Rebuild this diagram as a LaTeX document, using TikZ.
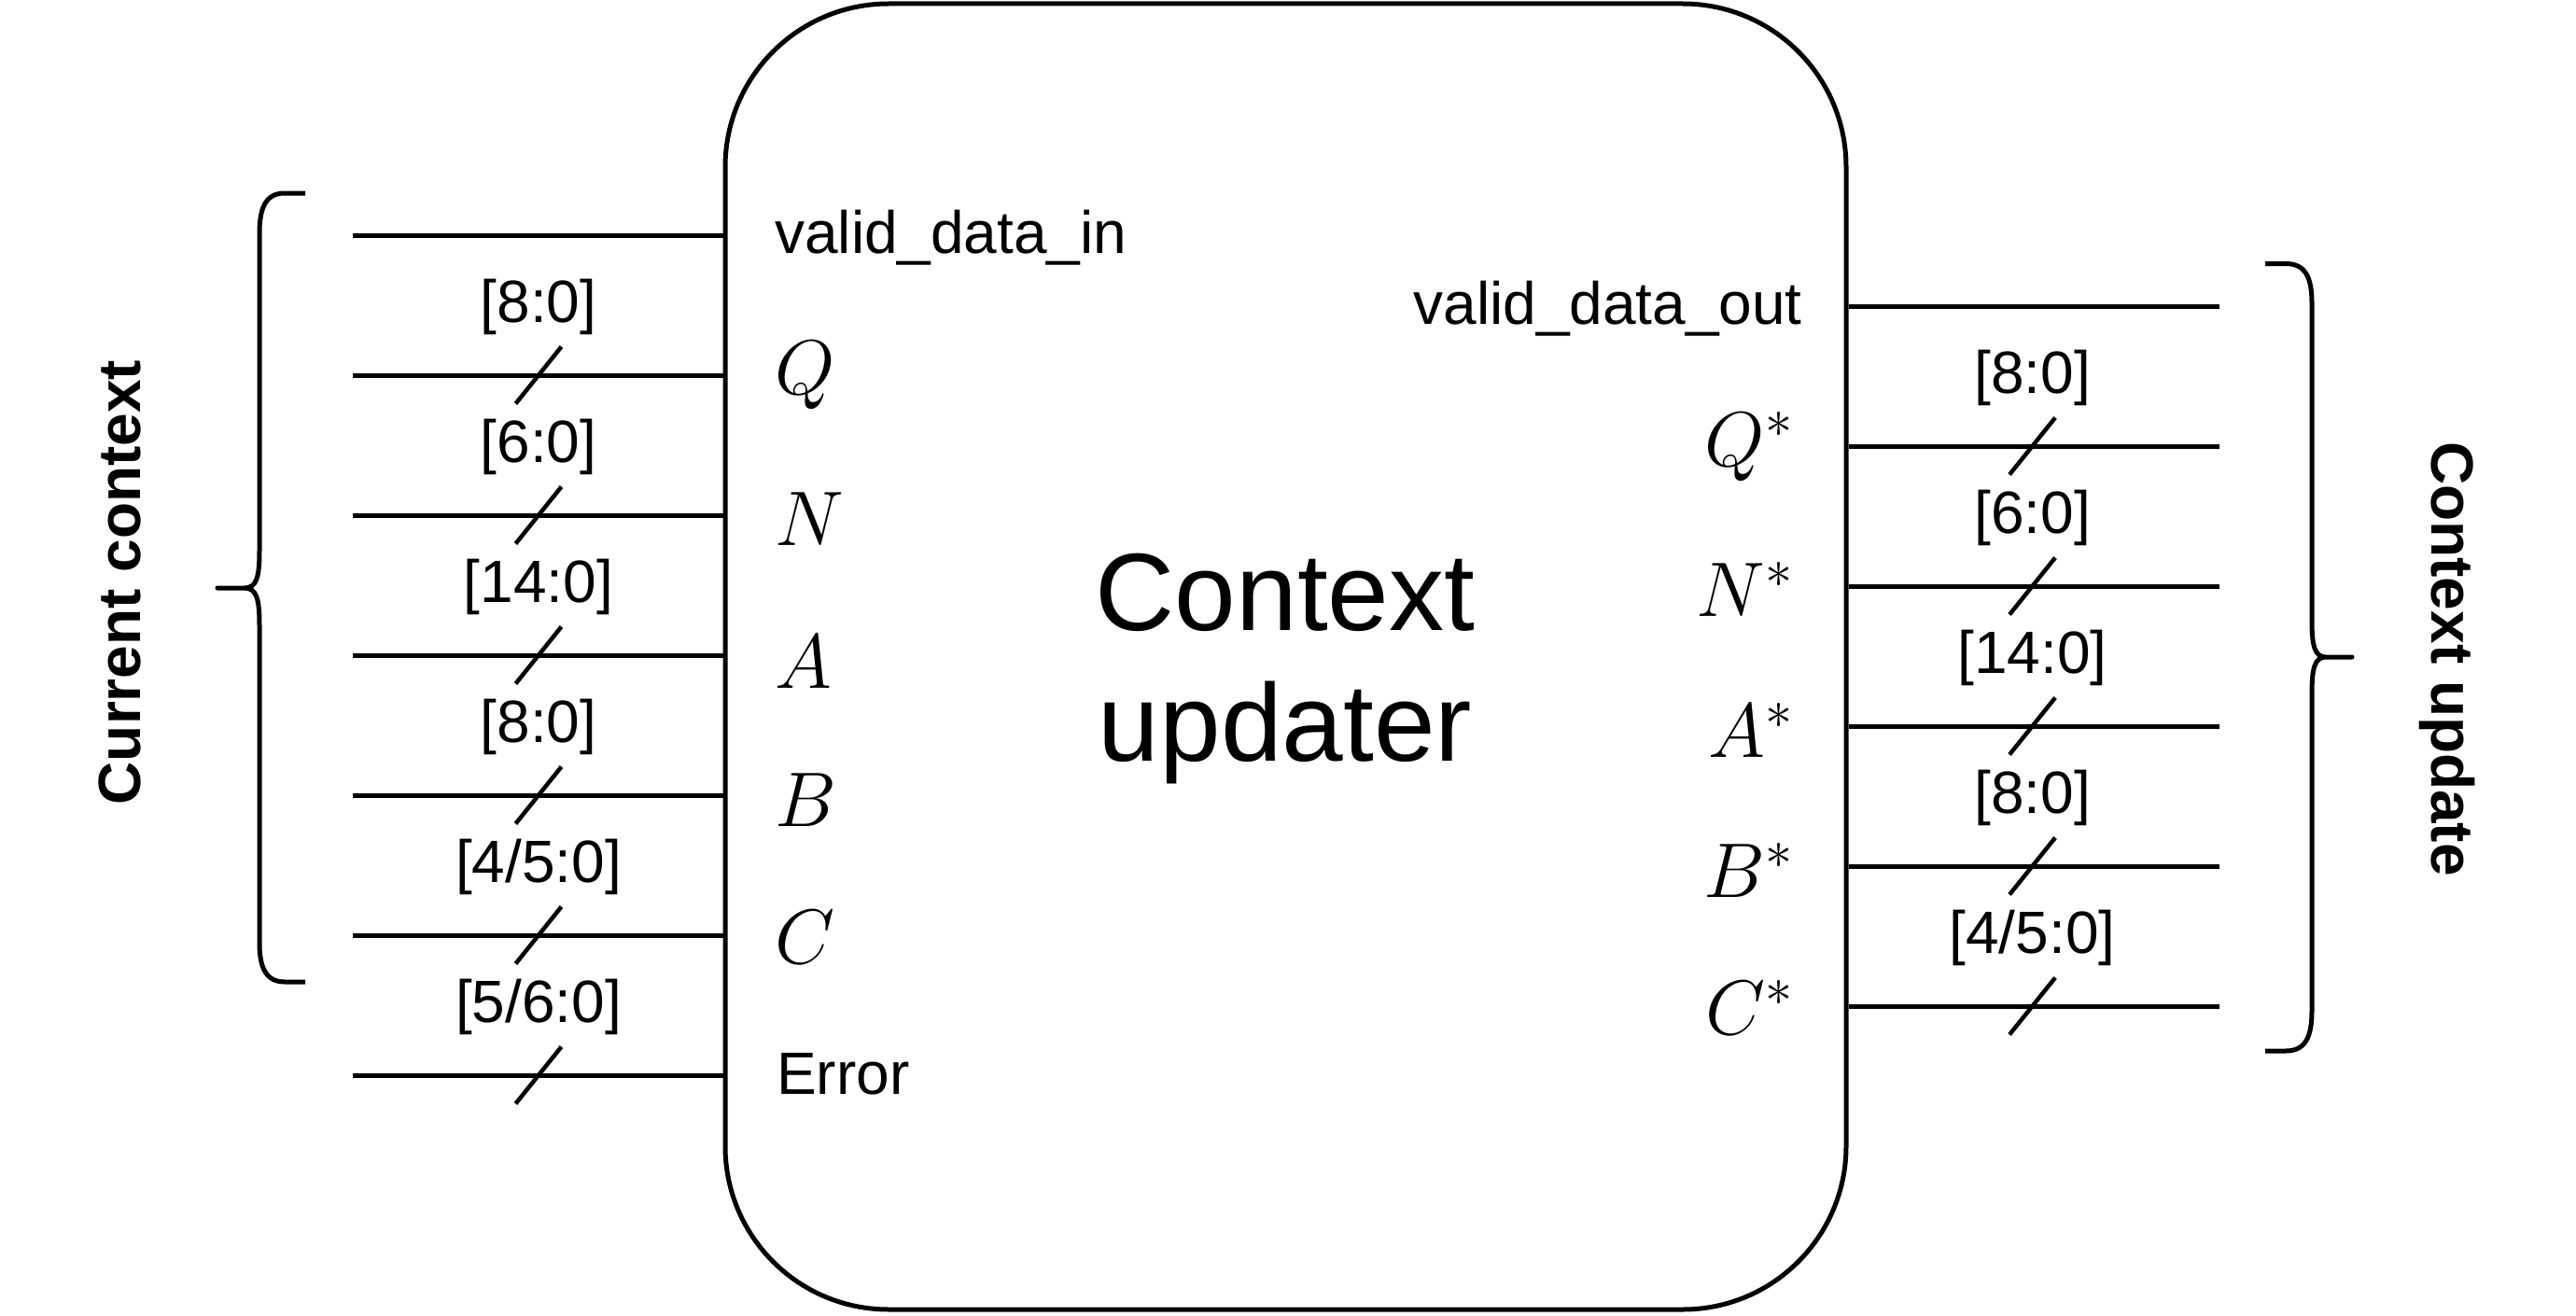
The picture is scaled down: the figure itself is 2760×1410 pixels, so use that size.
\RequirePackage{fix-cm}
\documentclass[tikz,border=0pt]{standalone}
\usepackage[no-math]{fontspec}
\setmainfont{Liberation Sans}
\tikzset{
  wire/.style={line width=5pt},
  busmark/.style={line width=4.5pt},
  bracket/.style={line width=5pt, line join=round},
  buslbl/.style={font=\fontsize{64}{70}\selectfont, anchor=base, inner sep=0pt},
  sigtxt/.style={font=\fontsize{64}{70}\selectfont, inner sep=0pt},
  mathlbl/.style={font=\fontsize{83}{90}\selectfont, inner sep=0pt},
  sidelbl/.style={font=\fontsize{64}{70}\selectfont\bfseries, inner sep=0pt, anchor=base},
  bigtxt/.style={font=\fontsize{118}{130}\selectfont, inner sep=0pt, anchor=base},
  blockbox/.style={draw, line width=5pt, rounded corners=175pt, inner sep=0pt,
    minimum width=1201pt, minimum height=1399pt}
}
\begin{document}
\begin{tikzpicture}[x=1pt,y=-1pt]
\useasboundingbox (0,0) rectangle (2760,1410);

% main block
\node[blockbox] (box) at (1377.5,703.5) {};
\node[bigtxt] (title1) at (1377,675) {Context};
\node[bigtxt] (title2) at (1377,815) {updater};

% left inputs
\foreach \y/\nm in {252/vin,402/q,552/n,702/a,852/b,1002/c,1152/err}{
  \coordinate (in-\nm) at (378,\y);
  \draw[wire] (in-\nm) -- (in-\nm -| box.west);
}
\foreach \y/\nm/\lbl in {402/q/{[8:0]},552/n/{[6:0]},702/a/{[14:0]},852/b/{[8:0]},1002/c/{[4/5:0]},1152/err/{[5/6:0]}}{
  \node[buslbl] (bl-\nm) at (577,\y-57) {\lbl};
  \draw[busmark] (552.5,\y+30.5) -- (601.5,\y-30.5);
}
\node[sigtxt, anchor=base west] (t-vin) at (830,271) {valid\_data\_in};
\node[mathlbl, anchor=base west] (t-q) at (830,422) {$Q$};
\node[mathlbl, anchor=base west] (t-n) at (830,584) {$N$};
\node[mathlbl, anchor=base west] (t-a) at (830,737) {$A$};
\node[mathlbl, anchor=base west] (t-b) at (830,885) {$B$};
\node[mathlbl, anchor=base west] (t-c) at (830,1032) {$C$};
\node[sigtxt, anchor=base west] (t-err) at (832,1172) {Error};

% right outputs
\foreach \y/\nm in {328/vout,478/q,628/n,778/a,928/b,1078/c}{
  \coordinate (out-\nm) at (2378,\y);
  \draw[wire] (out-\nm -| box.east) -- (out-\nm);
}
\foreach \y/\nm/\lbl in {478/q/{[8:0]},628/n/{[6:0]},778/a/{[14:0]},928/b/{[8:0]},1078/c/{[4/5:0]}}{
  \node[buslbl] (br-\nm) at (2177.5,\y-57) {\lbl};
  \draw[busmark] (2153,\y+30.5) -- (2202,\y-30.5);
}
\node[sigtxt, anchor=base east] (t-vout) at (1931,347) {valid\_data\_out};
\node[mathlbl, anchor=base east] (t-qs) at (1921,499) {$Q^*$};
\node[mathlbl, anchor=base east] (t-ns) at (1921,660) {$N^*$};
\node[mathlbl, anchor=base east] (t-as) at (1921,811) {$A^*$};
\node[mathlbl, anchor=base east] (t-bs) at (1921,961) {$B^*$};
\node[mathlbl, anchor=base east] (t-cs) at (1921,1108) {$C^*$};

% braces
\draw[bracket] (327,207) -- (305,207) .. controls (285,207) and (278,222) .. (278,250)
  -- (278,590) .. controls (278,618) and (275,630) .. (262,630) -- (233,630) -- (262,630)
  .. controls (275,630) and (278,642) .. (278,670)
  -- (278,1010) .. controls (278,1037) and (285,1052) .. (305,1052) -- (327,1052);
\draw[bracket] (2427,282.5) -- (2449,282.5) .. controls (2470,282.5) and (2477,297) .. (2477,325)
  -- (2477,665) .. controls (2477,692) and (2480,704) .. (2492,704) -- (2520,704) -- (2492,704)
  .. controls (2480,704) and (2477,716) .. (2477,743)
  -- (2477,1083) .. controls (2477,1111) and (2470,1126) .. (2449,1126) -- (2427,1126);

\node[sidelbl, rotate=90] (cur) at (150,624) {Current context};
\node[sidelbl, rotate=-90] (upd) at (2605,706) {Context update};
\end{tikzpicture}
\end{document}
